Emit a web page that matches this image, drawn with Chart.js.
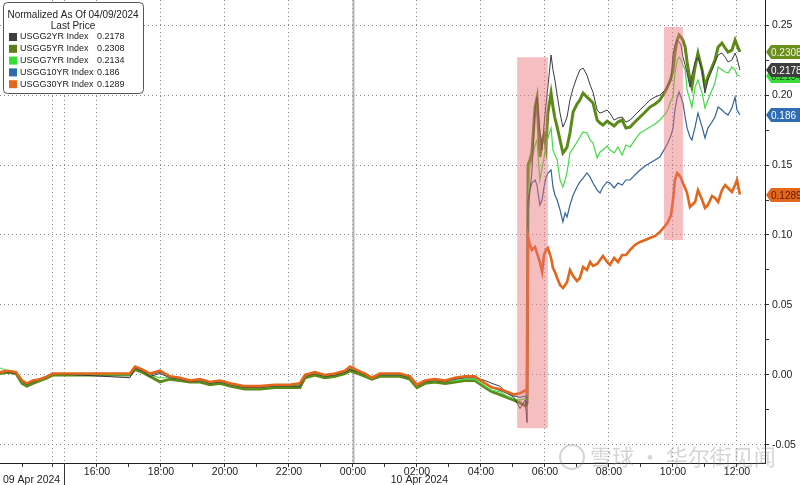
<!DOCTYPE html>
<html>
<head>
<meta charset="utf-8">
<title>USGG yields normalized</title>
<script src="https://cdn.jsdelivr.net/npm/chart.js@4.4.1/dist/chart.umd.min.js"></script>
<style>
  html, body { margin: 0; padding: 0; background: #fff; }
  #wrap { width: 800px; height: 485px; }
</style>
</head>
<body>
<div id="wrap"><canvas id="yieldChart" width="800" height="485"></canvas></div>
<script>
'use strict';

// time in hours from midnight 10 Apr 2024 (negative = 09 Apr)
let hours = [
  -11.03, -10.78, -10.53, -10.34, -10.19, -10.00, -9.78, -9.56, -9.38,
  -6.97, -6.81, -6.59, -6.34, -6.03, -5.72, -5.41, -5.09, -4.78, -4.47, -4.16,
  -3.84, -3.38, -2.91, -2.44, -1.97, -1.66, -1.50, -1.19, -0.88, -0.56, -0.25, -0.09,
  0.16, 0.38, 0.59, 0.84, 1.16, 1.47, 1.78, 2.00, 2.25, 2.56,
  2.88, 3.19, 3.50, 3.81, 4.13, 4.34, 4.59, 4.81, 5.03, 5.22, 5.38, 5.44,
  5.47, 5.53, 5.59, 5.69, 5.75, 5.84, 5.91, 5.97, 6.03, 6.09,
  6.19, 6.25, 6.31, 6.38, 6.47, 6.56, 6.63, 6.69, 6.78, 6.88,
  7.00, 7.09, 7.19, 7.31, 7.41, 7.50, 7.63, 7.72, 7.81, 7.94,
  8.03, 8.16, 8.28, 8.41, 8.53, 8.66, 8.81, 8.97, 9.13, 9.28,
  9.44, 9.59, 9.75, 9.84, 9.94, 10.00, 10.06, 10.13, 10.19, 10.25,
  10.31, 10.38, 10.44, 10.53, 10.59, 10.69, 10.78, 10.91, 11.00, 11.09,
  11.22, 11.31, 11.41, 11.53, 11.63, 11.72, 11.84, 11.94, 12.00, 12.09
];

let usgg2yr = [
  0.002, 0.002, 0.001, -0.005, -0.007, -0.005, -0.003, -0.001, 0.001,
  -0.002, 0.005, 0.003, -0.001, 0.001, -0.002, -0.003, -0.005, -0.004, -0.006, -0.005,
  -0.007, -0.009, -0.009, -0.008, -0.008, -0.008, -0.001, 0.001, -0.001, 0.000, 0.002, 0.004,
  0.002, 0.000, -0.002, 0.000, 0.000, 0.000, -0.002, -0.008, -0.005, -0.004,
  -0.005, -0.003, -0.002, -0.002, -0.004, -0.006, -0.008, -0.013, -0.016, -0.024, -0.018, -0.034,
  0.1250, 0.1321, 0.1443, 0.1893, 0.1986, 0.1750, 0.1607, 0.1786, 0.1929, 0.2057,
  0.2286, 0.2179, 0.2107, 0.2000, 0.1871, 0.1771, 0.1807, 0.1843, 0.1964, 0.2050,
  0.2129, 0.2179, 0.2193, 0.2143, 0.2071, 0.2021, 0.1893, 0.1871, 0.1879, 0.1893,
  0.1871, 0.1821, 0.1836, 0.1843, 0.1807, 0.1821, 0.1857, 0.1893, 0.1929, 0.1964,
  0.1986, 0.2000, 0.2036, 0.2071, 0.2107, 0.2286, 0.2357, 0.2393, 0.2379, 0.2357,
  0.2271, 0.2214, 0.2157, 0.2057, 0.2143, 0.2236, 0.2271, 0.2179, 0.2014, 0.2107,
  0.2179, 0.2229, 0.2286, 0.2300, 0.2271, 0.2236, 0.2250, 0.2300, 0.2264, 0.2178
];

let usgg5yr = [
  0.001, 0.002, 0.001, -0.006, -0.008, -0.006, -0.004, -0.002, 0.000,
  0.000, 0.004, 0.002, -0.001, -0.005, -0.003, -0.004, -0.005, -0.005, -0.007, -0.006,
  -0.008, -0.010, -0.010, -0.009, -0.009, -0.009, -0.002, 0.000, -0.002, -0.001, 0.001, 0.003,
  0.001, -0.001, -0.003, -0.001, -0.001, -0.001, -0.003, -0.009, -0.006, -0.005,
  -0.006, -0.005, -0.004, -0.004, -0.009, -0.012, -0.014, -0.016, -0.018, -0.020, -0.022, -0.020,
  0.1500, 0.1536, 0.1586, 0.1914, 0.1979, 0.1557, 0.1679, 0.1714, 0.1629, 0.1871,
  0.2014, 0.1914, 0.1836, 0.1771, 0.1679, 0.1586, 0.1607, 0.1629, 0.1729, 0.1879,
  0.1936, 0.1964, 0.2014, 0.1986, 0.1964, 0.1943, 0.1821, 0.1800, 0.1786, 0.1814,
  0.1800, 0.1779, 0.1807, 0.1821, 0.1764, 0.1771, 0.1807, 0.1843, 0.1879, 0.1914,
  0.1936, 0.1964, 0.2021, 0.2064, 0.2121, 0.2179, 0.2300, 0.2393, 0.2429, 0.2414,
  0.2393, 0.2343, 0.2236, 0.2107, 0.2057, 0.2200, 0.2300, 0.2179, 0.2057, 0.2129,
  0.2200, 0.2250, 0.2343, 0.2371, 0.2336, 0.2307, 0.2321, 0.2393, 0.2357, 0.2308
];

let usgg7yr = [
  0.005, 0.003, 0.002, -0.005, -0.007, -0.005, -0.003, -0.001, 0.001,
  0.000, 0.005, 0.004, 0.000, -0.002, -0.002, -0.003, -0.004, -0.004, -0.006, -0.005,
  -0.007, -0.009, -0.009, -0.008, -0.008, -0.007, -0.001, 0.002, -0.001, 0.001, 0.003, 0.005,
  0.002, 0.000, -0.002, 0.000, 0.000, 0.000, -0.002, -0.008, -0.005, -0.004,
  -0.005, -0.004, -0.003, -0.003, -0.008, -0.011, -0.012, -0.015, -0.017, -0.018, -0.017, -0.018,
  0.1250, 0.1486, 0.1536, 0.1643, 0.1679, 0.1393, 0.1479, 0.1550, 0.1643, 0.1693,
  0.1764, 0.1607, 0.1571, 0.1536, 0.1393, 0.1343, 0.1393, 0.1450, 0.1586, 0.1621,
  0.1664, 0.1700, 0.1736, 0.1729, 0.1679, 0.1657, 0.1550, 0.1593, 0.1607, 0.1636,
  0.1607, 0.1586, 0.1629, 0.1571, 0.1643, 0.1629, 0.1679, 0.1729, 0.1750, 0.1771,
  0.1793, 0.1821, 0.1864, 0.1893, 0.1964, 0.1986, 0.2157, 0.2250, 0.2271, 0.2250,
  0.2214, 0.2179, 0.2036, 0.1964, 0.1914, 0.2057, 0.2107, 0.2014, 0.1907, 0.1964,
  0.2036, 0.2086, 0.2200, 0.2179, 0.2164, 0.2157, 0.2200, 0.2179, 0.2143, 0.2134
];

let usgg10yr = [
  0.002, 0.003, 0.002, -0.005, -0.006, -0.004, -0.003, -0.001, 0.001,
  0.000, 0.006, 0.004, 0.000, 0.002, -0.001, -0.002, -0.004, -0.003, -0.005, -0.004,
  -0.006, -0.008, -0.008, -0.007, -0.007, -0.007, 0.000, 0.002, 0.000, 0.001, 0.003, 0.005,
  0.003, 0.001, -0.002, 0.000, 0.001, 0.000, -0.001, -0.007, -0.004, -0.003,
  -0.004, -0.003, -0.002, -0.002, -0.006, -0.009, -0.011, -0.013, -0.015, -0.016, -0.015, -0.022,
  0.1143, 0.1321, 0.1371, 0.1393, 0.1357, 0.1214, 0.1250, 0.1343, 0.1407, 0.1443,
  0.1464, 0.1343, 0.1286, 0.1250, 0.1179, 0.1093, 0.1157, 0.1129, 0.1214, 0.1286,
  0.1343, 0.1379, 0.1407, 0.1443, 0.1414, 0.1371, 0.1321, 0.1300, 0.1343, 0.1379,
  0.1371, 0.1336, 0.1371, 0.1357, 0.1393, 0.1393, 0.1429, 0.1464, 0.1493, 0.1514,
  0.1536, 0.1557, 0.1621, 0.1657, 0.1714, 0.1764, 0.1893, 0.1979, 0.2021, 0.1986,
  0.1943, 0.1843, 0.1764, 0.1700, 0.1679, 0.1771, 0.1871, 0.1771, 0.1693, 0.1764,
  0.1807, 0.1843, 0.1914, 0.1893, 0.1871, 0.1857, 0.1907, 0.1986, 0.1893, 0.1860
];

let usgg30yr = [
  0.002, 0.003, 0.002, -0.004, -0.006, -0.004, -0.003, -0.001, 0.001,
  0.001, 0.006, 0.004, 0.001, 0.003, -0.001, -0.002, -0.004, -0.003, -0.005, -0.004,
  -0.006, -0.008, -0.008, -0.007, -0.007, -0.006, 0.000, 0.002, 0.000, 0.001, 0.003, 0.006,
  0.003, 0.001, -0.002, 0.001, 0.001, 0.001, -0.001, -0.007, -0.004, -0.003,
  -0.004, -0.002, -0.001, -0.001, -0.006, -0.009, -0.010, -0.012, -0.014, -0.013, -0.011, -0.013,
  0.0986, 0.0929, 0.0893, 0.0914, 0.0871, 0.0807, 0.0736, 0.0857, 0.0893, 0.0907,
  0.0836, 0.0764, 0.0736, 0.0693, 0.0643, 0.0621, 0.0643, 0.0664, 0.0750, 0.0707,
  0.0671, 0.0693, 0.0771, 0.0750, 0.0807, 0.0779, 0.0793, 0.0821, 0.0850, 0.0807,
  0.0786, 0.0836, 0.0807, 0.0857, 0.0857, 0.0893, 0.0929, 0.0950, 0.0964, 0.0979,
  0.0993, 0.1021, 0.1064, 0.1093, 0.1143, 0.1250, 0.1393, 0.1443, 0.1429, 0.1407,
  0.1371, 0.1336, 0.1300, 0.1200, 0.1214, 0.1236, 0.1321, 0.1250, 0.1193, 0.1214,
  0.1279, 0.1264, 0.1236, 0.1321, 0.1357, 0.1336, 0.1307, 0.1357, 0.1393, 0.1289
];

let seriesNames = ['USGG2YR Index', 'USGG5YR Index', 'USGG7YR Index', 'USGG10YR Index', 'USGG30YR Index'];
let lastPrices = ['0.2178', '0.2308', '0.2134', '0.186', '0.1289'];
let legendTitle = ['Normalized As Of 04/09/2024', 'Last Price'];

// axis ticks
let xTicks = [-10.34, -9.38, -9.03, -8, -7, -6, -5, -4, -3, -2, -1, 0, 1, 2, 3, 4, 5, 6, 7, 8, 9, 10, 11, 12];
let yTicks = [-0.05, -0.025, 0, 0.025, 0.05, 0.075, 0.1, 0.125, 0.15, 0.175, 0.2, 0.225, 0.25];
let dateLabels = ['09 Apr 2024', '10 Apr 2024'];
let dateLabelAt = [-11.03, 1.15];

// shaded windows (hours / normalized value)
let shadeFrom = [5.13, 9.72];
let shadeTo = [6.09, 10.31];
let shadeHigh = [0.227, 0.2486];
let shadeLow = [-0.038, 0.0964];

let watermarkText = '雪球 · 华尔街见闻';

//////// styles
let lineColors = ['#3a3a42', '#5b8a18', '#44dc44', '#33639c', '#e3661b'];
let lineWidths = [1, 3, 1.2, 1.2, 2.6];
let drawOrder = [1, 4, 2, 3, 0];
let swatchColors = ['#3d3d3d', '#5b7f19', '#35dd35', '#2e6bb0', '#e5691b'];
let tagColors = ['#3d3d3d', '#6a8f1f', '#3ddc3d', '#2e6db5', '#e3681a'];
let tagTextColors = ['#ffffff', '#eef5dd', '#1d5a1d', '#ffffff', '#5a1a00'];
let tagDrawOrder = [2, 0, 1, 3, 4];
let FONT = '"Liberation Sans", Arial, sans-serif';

let allSeries = [usgg2yr, usgg5yr, usgg7yr, usgg10yr, usgg30yr];

function isEvenHour(v){
  return Math.abs(v - Math.round(v)) < 1e-6 && Math.round(v) % 2 === 0;
}
function isMajorY(v){
  return Math.abs(v * 20 - Math.round(v * 20)) < 1e-6;
}
function hourLabel(v){
  let h = ((Math.round(v) % 24) + 24) % 24;
  return String(h).padStart(2, '0') + ':00';
}

let datasets = [];
for(let i = 0; i < allSeries.length; i++){
  datasets.push({
    label: seriesNames[i],
    data: hours.map((h, j) => ({x: h, y: allSeries[i][j]})),
    borderColor: lineColors[i],
    borderWidth: lineWidths[i],
    pointRadius: 0,
    tension: 0,
    fill: false,
    order: drawOrder[i]
  });
}

// extra bits drawn like the terminal does
let decorPlugin = {
  id: 'decor',
  beforeDatasetsDraw(chart){
    let ctx = chart.ctx;
    let xs = chart.scales.x;
    let area = chart.chartArea;
    // midnight divider
    let mx = Math.round(xs.getPixelForValue(0)) + 0.5;
    ctx.save();
    ctx.strokeStyle = '#b4b4b4';
    ctx.lineWidth = 2;
    ctx.beginPath();
    ctx.moveTo(mx, area.top);
    ctx.lineTo(mx, area.bottom);
    ctx.stroke();
    ctx.restore();
  },
  afterDatasetsDraw(chart){
    let ctx = chart.ctx;
    let xs = chart.scales.x;
    let ys = chart.scales.y;
    ctx.save();
    ctx.fillStyle = 'rgba(232, 110, 118, 0.45)';
    for(let i = 0; i < shadeFrom.length; i++){
      let x1 = xs.getPixelForValue(shadeFrom[i]);
      let x2 = xs.getPixelForValue(shadeTo[i]);
      let y1 = ys.getPixelForValue(shadeHigh[i]);
      let y2 = ys.getPixelForValue(shadeLow[i]);
      ctx.fillRect(x1, y1, x2 - x1, y2 - y1);
    }
    ctx.restore();
  },
  afterDraw(chart){
    let ctx = chart.ctx;
    let xs = chart.scales.x;
    let ys = chart.scales.y;
    let area = chart.chartArea;
    ctx.save();

    // date row under the time labels
    ctx.font = '10.5px ' + FONT;
    ctx.fillStyle = '#222';
    ctx.textAlign = 'left';
    ctx.textBaseline = 'middle';
    for(let i = 0; i < dateLabels.length; i++){
      let px = Math.max(xs.getPixelForValue(dateLabelAt[i]), 2);
      ctx.fillText(dateLabels[i], px + 1, 480);
    }
    let sx = Math.round(xs.getPixelForValue(-9.03)) + 0.5;
    ctx.strokeStyle = '#333';
    ctx.lineWidth = 1;
    ctx.beginPath();
    ctx.moveTo(sx, area.bottom);
    ctx.lineTo(sx, 485);
    ctx.stroke();

    // last price tags on the right axis
    ctx.font = '10px ' + FONT;
    for(let k = 0; k < tagDrawOrder.length; k++){
      let i = tagDrawOrder[k];
      let s = allSeries[i];
      let ty = Math.round(ys.getPixelForValue(s[s.length - 1]));
      let tx = area.right + 1;
      ctx.fillStyle = tagColors[i];
      ctx.beginPath();
      ctx.moveTo(tx, ty);
      ctx.lineTo(tx + 5, ty - 7);
      ctx.lineTo(800, ty - 7);
      ctx.lineTo(800, ty + 7);
      ctx.lineTo(tx + 5, ty + 7);
      ctx.closePath();
      ctx.fill();
      ctx.fillStyle = tagTextColors[i];
      ctx.textAlign = 'left';
      ctx.fillText(lastPrices[i], tx + 5, ty + 1);
    }

    // legend box
    ctx.fillStyle = '#ffffff';
    ctx.strokeStyle = '#555';
    ctx.lineWidth = 1;
    ctx.beginPath();
    ctx.roundRect(3.5, 2.5, 140, 91, 4);
    ctx.fill();
    ctx.stroke();
    ctx.font = '10px ' + FONT;
    ctx.fillStyle = '#222';
    ctx.textAlign = 'center';
    ctx.fillText(legendTitle[0], 73, 15);
    ctx.fillText(legendTitle[1], 73, 26);
    ctx.textAlign = 'left';
    ctx.font = '9px ' + FONT;
    for(let i = 0; i < seriesNames.length; i++){
      let ly = 37 + i * 11.8;
      ctx.fillStyle = swatchColors[i];
      ctx.fillRect(9, ly - 4, 8, 8);
      ctx.fillStyle = '#222';
      ctx.fillText(seriesNames[i], 20, ly);
      ctx.fillText(lastPrices[i], 97, ly);
    }

    // source watermark
    ctx.globalAlpha = 0.35;
    ctx.strokeStyle = '#888';
    ctx.lineWidth = 2;
    ctx.beginPath();
    ctx.arc(572, 457, 12, 0, Math.PI * 2);
    ctx.stroke();
    ctx.fillStyle = '#888';
    ctx.font = '22px "Noto Sans CJK SC", sans-serif';
    ctx.textAlign = 'left';
    ctx.fillText(watermarkText, 590, 457);
    ctx.restore();
  }
};

let chartCtx = document.getElementById('yieldChart').getContext('2d');
let yieldChart = new Chart(chartCtx, {
  type: 'line',
  data: {datasets: datasets},
  plugins: [decorPlugin],
  options: {
    responsive: false,
    animation: false,
    devicePixelRatio: 1,
    layout: {padding: 0},
    plugins: {
      legend: {display: false},
      tooltip: {enabled: false}
    },
    scales: {
      x: {
        type: 'linear',
        min: -11.03,
        max: 12.875,
        afterBuildTicks: function(scale){
          scale.ticks = xTicks.map(v => ({value: v}));
        },
        afterFit: function(scale){
          scale.height = 22;
          scale.paddingLeft = 0;
          scale.paddingRight = 0;
        },
        ticks: {
          autoSkip: false,
          maxRotation: 0,
          padding: -1,
          color: '#222',
          font: {family: FONT, size: 10.5},
          callback: function(v){
            return isEvenHour(v) ? hourLabel(v) : '';
          }
        },
        grid: {
          color: function(c){
            if(!c.tick) return 'rgba(0,0,0,0)';
            let v = c.tick.value;
            return (isEvenHour(v) || v === -9.38 || v === -9.03) ? '#8a8a8a' : 'rgba(0,0,0,0)';
          },
          lineWidth: 1,
          tickLength: 4,
          tickColor: '#333'
        },
        border: {display: true, color: '#222', width: 1, dash: [1, 3]}
      },
      y: {
        type: 'linear',
        position: 'right',
        min: -0.0629,
        max: 0.2679,
        afterBuildTicks: function(scale){
          scale.ticks = yTicks.map(v => ({value: v}));
        },
        afterFit: function(scale){
          scale.width = 35;
          scale.paddingTop = 0;
          scale.paddingBottom = 0;
        },
        ticks: {
          padding: 3,
          color: '#222',
          font: {family: FONT, size: 10.5},
          callback: function(v){
            return isMajorY(v) ? v.toFixed(2) : '';
          }
        },
        grid: {
          color: function(c){
            if(!c.tick) return 'rgba(0,0,0,0)';
            return isMajorY(c.tick.value) ? '#8a8a8a' : 'rgba(0,0,0,0)';
          },
          lineWidth: 1,
          tickLength: 4,
          tickColor: '#333'
        },
        border: {display: true, color: '#222', width: 1, dash: [1, 3]}
      }
    }
  }
});
</script>
</body>
</html>
